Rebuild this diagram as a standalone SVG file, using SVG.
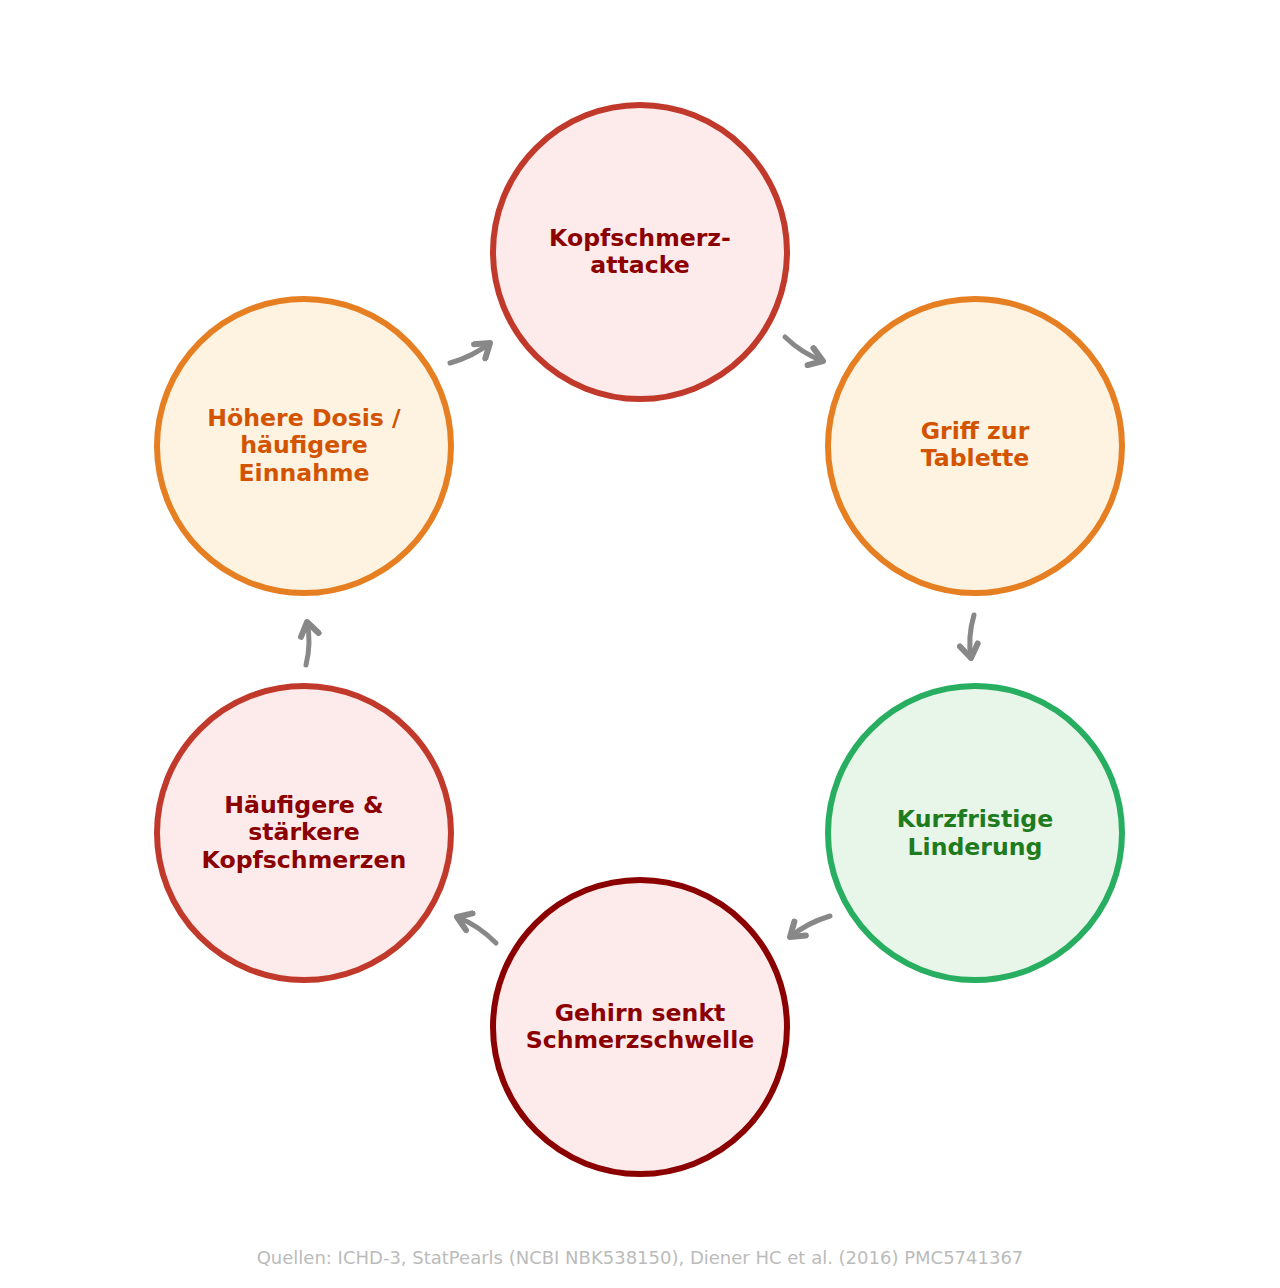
<svg xmlns="http://www.w3.org/2000/svg" width="1280" height="1288" viewBox="0 0 1280 1288">
<style>
.red circle{fill:#fdeaea;stroke:#c0392b;stroke-width:6}
.dred circle{fill:#fdeaea;stroke:#8b0000;stroke-width:6}
.org circle{fill:#fef3e0;stroke:#e67e22;stroke-width:6}
.grn circle{fill:#e8f5e9;stroke:#27ae60;stroke-width:6}
text{font-family:"DejaVu Sans",sans-serif;font-weight:bold;font-size:23.6px;text-anchor:middle}
.red text,.dred text{fill:#8b0000}
.org text{fill:#d35400}
.grn text{fill:#1e7b1e}
#connectors path{fill:none;stroke:#888888;stroke-width:5;stroke-linecap:round;marker-end:url(#ah)}
.foot{font-family:"DejaVu Sans",sans-serif;font-weight:normal;font-size:18px;fill:#bbbbbb}
</style>
<defs>
<marker id="ah" markerUnits="userSpaceOnUse" markerWidth="24" markerHeight="24" refX="14" refY="10" orient="auto" viewBox="0 0 20 20">
<path d="M3,2.5 L14,10 L3,17.5" fill="none" stroke="#888888" stroke-width="5" stroke-linecap="round" stroke-linejoin="round"/>
</marker>
</defs>
<rect width="1280" height="1288" fill="#ffffff"/>
<g id="connectors">
<path d="M785,337 Q802.4,353.8 823,361"/>
<path d="M974,615 Q967.5,637.2 971,658"/>
<path d="M830,916 Q806.6,923.1 790,937"/>
<path d="M496,943 Q478.3,925.3 457,917"/>
<path d="M306,665 Q311.5,642.6 307,622"/>
<path d="M450,363 Q473.3,356.4 490,343"/>
</g>
<g id="n1" class="red"><circle cx="640" cy="252" r="147"/><text x="640" y="246">Kopfschmerz-</text><text x="640" y="273">attacke</text></g>
<g id="n2" class="org"><circle cx="975" cy="446" r="147"/><text x="975" y="439">Griff zur</text><text x="975" y="466">Tablette</text></g>
<g id="n3" class="grn"><circle cx="975" cy="833" r="147"/><text x="975" y="827">Kurzfristige</text><text x="975" y="855">Linderung</text></g>
<g id="n4" class="dred"><circle cx="640" cy="1027" r="147"/><text x="640" y="1021">Gehirn senkt</text><text x="640" y="1048">Schmerzschwelle</text></g>
<g id="n5" class="red"><circle cx="304" cy="833" r="147"/><text x="304" y="813">Häufigere &amp;</text><text x="304" y="840">stärkere</text><text x="304" y="868">Kopfschmerzen</text></g>
<g id="n6" class="org"><circle cx="304" cy="446" r="147"/><text x="304" y="426">Höhere Dosis /</text><text x="304" y="453">häufigere</text><text x="304" y="481">Einnahme</text></g>
<text class="foot" x="640" y="1264">Quellen: ICHD-3, StatPearls (NCBI NBK538150), Diener HC et al. (2016) PMC5741367</text>
</svg>
